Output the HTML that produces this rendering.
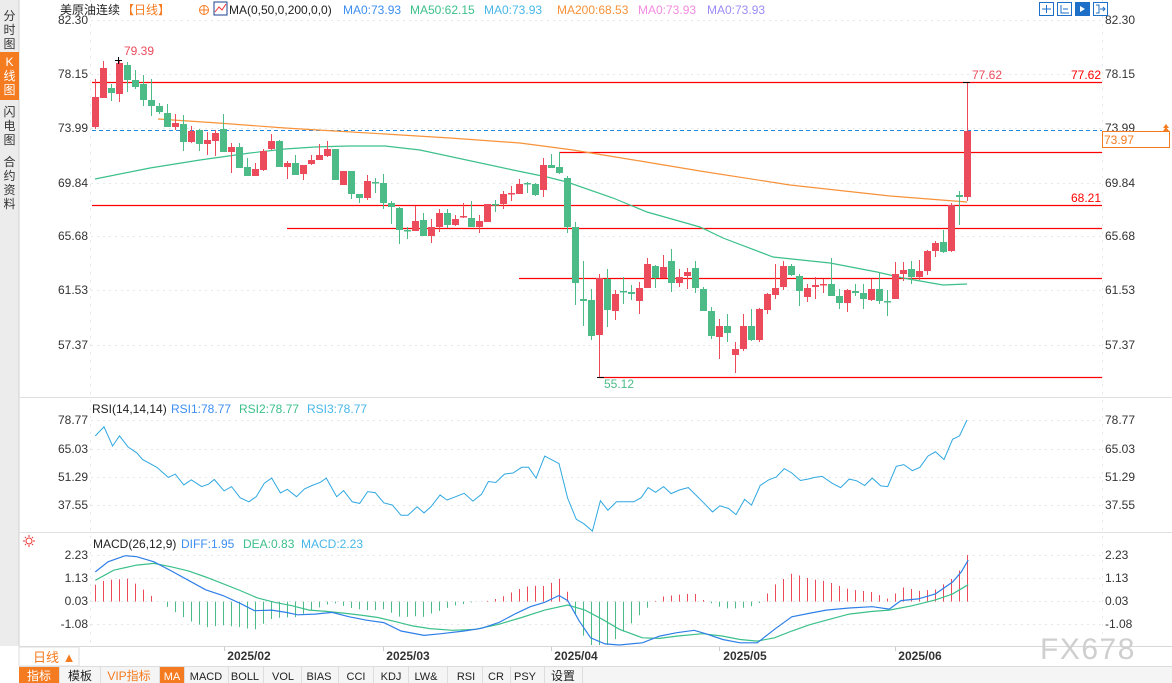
<!DOCTYPE html>
<html><head><meta charset="utf-8"><style>
html,body{margin:0;padding:0;background:#fff;}
body{width:1172px;height:683px;overflow:hidden;position:relative;font-family:"Liberation Sans","Noto Sans CJK SC",sans-serif;}
svg{position:absolute;left:0;top:0;}
text{font-family:"Liberation Sans","Noto Sans CJK SC",sans-serif;}
</style></head><body>
<svg id="s" width="1172" height="683" viewBox="0 0 1172 683" xmlns="http://www.w3.org/2000/svg">
<rect x="0" y="0" width="1172" height="683" fill="#fff"/>
<rect x="0" y="0" width="19" height="646" fill="#ececec"/>
<line x1="19" y1="0" x2="19" y2="646" stroke="#d0d0d0"/>
<rect x="0" y="52" width="19" height="48" fill="#f47b20"/>
<g font-size="12" fill="#333" text-anchor="middle">
<text x="9.5" y="20">分</text><text x="9.5" y="34">时</text><text x="9.5" y="48">图</text>
<text x="9.5" y="66" fill="#fff">K</text><text x="9.5" y="80" fill="#fff">线</text><text x="9.5" y="94" fill="#fff">图</text>
<text x="9.5" y="116">闪</text><text x="9.5" y="130">电</text><text x="9.5" y="144">图</text>
<text x="9.5" y="166">合</text><text x="9.5" y="180">约</text><text x="9.5" y="194">资</text><text x="9.5" y="208">料</text>
</g>
<line x1="19" y1="397.5" x2="1172" y2="397.5" stroke="#e0e0e0"/>
<line x1="19" y1="532.5" x2="1172" y2="532.5" stroke="#e0e0e0"/>
<line x1="19" y1="646.5" x2="1172" y2="646.5" stroke="#d8d8d8"/>
<line x1="90.5" y1="0" x2="90.5" y2="646" stroke="#e6e6e6" stroke-dasharray="2,6"/>
<line x1="1102.5" y1="0" x2="1102.5" y2="646" stroke="#e6e6e6" stroke-dasharray="2,6"/>
<g id="g"></g>
<text x="60" y="14" font-size="12" fill="#222">美原油连续</text>
<text x="122" y="14" font-size="12" fill="#f47b20">【日线】</text>
<circle cx="204" cy="10" r="4.5" fill="none" stroke="#f47b20"/><line x1="199" y1="10" x2="209" y2="10" stroke="#f47b20"/><line x1="204" y1="5" x2="204" y2="15" stroke="#f47b20"/>
<rect x="214" y="2" width="13" height="13" fill="#fff" stroke="#1b3c8f"/><polyline points="215,12 219,7 222,10 226,4" fill="none" stroke="#e33" stroke-width="1"/>
<text x="229" y="14" font-size="12" fill="#222">MA(0,50,0,200,0,0)</text>
<text x="343" y="14" font-size="12" fill="#3d8ef0">MA0:73.93</text>
<text x="410" y="14" font-size="12" fill="#3cc08a">MA50:62.15</text>
<text x="484" y="14" font-size="12" fill="#47b7e8">MA0:73.93</text>
<text x="557" y="14" font-size="12" fill="#f7923a">MA200:68.53</text>
<text x="638" y="14" font-size="12" fill="#f28be0">MA0:73.93</text>
<text x="707" y="14" font-size="12" fill="#9b8cf5">MA0:73.93</text>
<g stroke="#1e6fc8" fill="none">
<rect x="1039.5" y="2.5" width="14" height="13"/><rect x="1057.5" y="2.5" width="14" height="13"/>
<rect x="1075.5" y="2.5" width="14" height="13" fill="#1e6fc8"/><rect x="1093.5" y="2.5" width="14" height="13"/>
<path d="M1046.5 5v8M1042 9h9M1061 5v8h8M1063 9h5M1080 5v8h7M1080 6l5 3-5 3M1096 5h3v8h-3M1100 9h5M1103 7l2 2-2 2"/>
</g>
<path d="M1080 6l5 3-5 3z" fill="#fff"/>
<text x="92" y="413" font-size="12" fill="#222">RSI(14,14,14)</text>
<text x="171" y="413" font-size="12" fill="#3d8ef0">RSI1:78.77</text>
<text x="239" y="413" font-size="12" fill="#3cc08a">RSI2:78.77</text>
<text x="307" y="413" font-size="12" fill="#47b7e8">RSI3:78.77</text>
<text x="93" y="548" font-size="12" fill="#222">MACD(26,12,9)</text>
<text x="181" y="548" font-size="12" fill="#3d8ef0">DIFF:1.95</text>
<text x="243" y="548" font-size="12" fill="#3cc08a">DEA:0.83</text>
<text x="301" y="548" font-size="12" fill="#47b7e8">MACD:2.23</text>
<g stroke="#e33" fill="none"><circle cx="29" cy="541" r="3"/><path d="M29 535v2M29 545v2M23 541h2M33 541h2M25 537l1 1M32 544l1 1M25 545l1-1M32 538l1-1"/></g>
<rect x="19" y="647" width="60" height="19" fill="#fff" stroke="#ddd"/>
<text x="33" y="662" font-size="13" fill="#f47b20">日线 ▲</text>
<g font-size="12" font-weight="bold" fill="#333" text-anchor="middle">
<text x="249" y="660">2025/02</text><text x="408" y="660">2025/03</text><text x="576" y="660">2025/04</text><text x="745" y="660">2025/05</text><text x="920" y="660">2025/06</text>
</g>
<g stroke="#ccc"><line x1="224.5" y1="647" x2="224.5" y2="651"/><line x1="383.5" y1="647" x2="383.5" y2="651"/><line x1="551.5" y1="647" x2="551.5" y2="651"/><line x1="719.5" y1="647" x2="719.5" y2="651"/><line x1="895.5" y1="647" x2="895.5" y2="651"/></g>
<text x="1040" y="659" font-size="30" fill="#cfcfcf" letter-spacing="1.5">FX678</text>
<rect x="19" y="666" width="1153" height="17" fill="#f5f5f5"/>
<line x1="19" y1="666.5" x2="1172" y2="666.5" stroke="#ddd"/>
<rect x="19" y="667" width="40" height="16" fill="#f47b20"/>
<rect x="160" y="667" width="24" height="16" fill="#f47b20"/>
<g font-size="12" fill="#222" text-anchor="middle">
<text x="39" y="680" fill="#fff">指标</text><text x="80" y="680">模板</text><text x="129" y="680" fill="#f47b20">VIP指标</text>
<text x="172" y="680" fill="#fff" font-family="Liberation Serif" font-size="11">MA</text>
</g>
<g font-size="11" fill="#222" text-anchor="middle" font-family="Liberation Mono">
<text x="206" y="680">MACD</text><text x="245" y="680">BOLL</text><text x="283" y="680">VOL</text><text x="319" y="680">BIAS</text><text x="356" y="680">CCI</text><text x="391" y="680">KDJ</text><text x="426" y="680">LW&amp;</text><text x="466" y="680">RSI</text><text x="496" y="680">CR</text><text x="525" y="680">PSY</text>
</g>
<text x="563" y="680" font-size="12" fill="#222" text-anchor="middle">设置</text>
<g stroke="#ddd"><line x1="59.5" y1="667" x2="59.5" y2="683"/><line x1="100.5" y1="667" x2="100.5" y2="683"/><line x1="159.5" y1="667" x2="159.5" y2="683"/><line x1="184.5" y1="667" x2="184.5" y2="683"/><line x1="228.5" y1="667" x2="228.5" y2="683"/><line x1="263.5" y1="667" x2="263.5" y2="683"/><line x1="301.5" y1="667" x2="301.5" y2="683"/><line x1="338.5" y1="667" x2="338.5" y2="683"/><line x1="373.5" y1="667" x2="373.5" y2="683"/><line x1="408.5" y1="667" x2="408.5" y2="683"/><line x1="447.5" y1="667" x2="447.5" y2="683"/><line x1="482.5" y1="667" x2="482.5" y2="683"/><line x1="510.5" y1="667" x2="510.5" y2="683"/><line x1="544.5" y1="667" x2="544.5" y2="683"/><line x1="582.5" y1="667" x2="582.5" y2="683"/></g>
</svg>
<script>
var NS="http://www.w3.org/2000/svg",G=document.getElementById("g");
function el(t,a,txt){var e=document.createElementNS(NS,t);for(var k in a)e.setAttribute(k,a[k]);if(txt!=null)e.textContent=txt;G.appendChild(e);return e;}
var L=[[20,"82.30"],[74,"78.15"],[128,"73.99"],[183,"69.84"],[236,"65.68"],[290,"61.53"],[345,"57.37"],
[420,"78.77"],[449,"65.03"],[477,"51.29"],[505,"37.55"],[555,"2.23"],[578,"1.13"],[601,"0.03"],[624,"-1.08"]];
L.forEach(function(l){el("line",{x1:91,y1:l[0]+0.5,x2:1102,y2:l[0]+0.5,stroke:"#e8e8e8","stroke-dasharray":"2,4"});
el("text",{x:88,y:l[0]+4,"font-size":12,fill:"#333","text-anchor":"end"},l[1]);
if(l[1]!="73.99")el("text",{x:1105,y:l[0]+4,"font-size":12,fill:"#333"},l[1]);});
el("text",{x:1105,y:132,"font-size":12,fill:"#333"},"73.99");
[[92,82],[559,152],[92,205],[287,228],[519,278],[599,377]].forEach(function(r){el("line",{x1:r[0],y1:r[1]+0.5,x2:1102,y2:r[1]+0.5,stroke:"#f00","stroke-width":1.3});});
el("line",{x1:92,y1:130.5,x2:1102,y2:130.5,stroke:"#1e88e5","stroke-dasharray":"4,3"});
el("polyline",{points:"95,179 150,168 200,160 250,153 285,149 315,147 348,146 385,146 420,150 513,170 547,177 567,182 613,198 647,212 700,227 723,238 773,257 830,263 877,272 903,278 943,285 967,284",fill:"none",stroke:"#3cc08a","stroke-width":1.2});
el("polyline",{points:"158,119 218,123 285,128 318,130 385,134 450,138 520,143 573,150 640,161 700,171 790,185 890,196 967,202",fill:"none",stroke:"#f7923a","stroke-width":1.2});
var C=[[97,127,79,129,'r'],[68,98,61,98,'r'],[88,93,84,101,'g'],[63,94,60,102,'r'],[65,80,62,92,'g'],[80,87,70,89,'g'],[84,100,75,106,'g'],[100,106,79,116,'g'],[106,112,103,114,'g'],[113,127,104,127,'g'],
[123,127,114,130,'r'],[124,142,115,151,'g'],[131,142,126,143,'r'],[130,144,129,151,'g'],[140,144,132,155,'r'],[133,141,130,156,'r'],[129,152,114,152,'g'],[147,152,143,173,'r'],[147,168,143,168,'g'],[167,176,158,176,'g'],
[169,176,163,176,'r'],[151,170,149,171,'r'],[141,149,134,150,'r'],[141,167,140,167,'g'],[163,167,161,179,'r'],[163,175,155,175,'g'],[165,174,165,180,'r'],[160,164,155,165,'r'],[155,160,144,160,'r'],[149,156,141,157,'r'],
[149,180,149,180,'g'],[171,185,171,185,'r'],[171,194,171,199,'g'],[194,198,194,203,'g'],[181,198,175,200,'r'],[182,183,178,193,'g'],[183,203,174,209,'g'],[203,207,201,224,'g'],[208,230,207,244,'g'],[230,231,227,239,'g'],
[221,231,206,231,'r'],[220,236,213,236,'g'],[227,236,219,243,'r'],[213,227,209,232,'r'],[213,225,209,228,'g'],[219,225,215,226,'r'],[216,217,203,218,'r'],[218,227,201,227,'g'],[221,227,215,233,'r'],[204,222,204,222,'r'],
[204,205,200,212,'g'],[194,204,191,209,'r'],[193,194,186,201,'r'],[184,194,179,194,'r'],[183,184,182,193,'g'],[184,195,183,196,'g'],[165,190,158,197,'r'],[165,168,154,168,'g'],[167,173,152,174,'g'],[178,227,176,233,'g'],
[227,283,222,305,'g'],[299,301,261,326,'g'],[300,336,289,340,'g'],[278,335,274,377,'r'],[279,310,269,327,'g'],[294,311,290,320,'r'],[291,292,277,304,'g'],[292,294,285,300,'g'],[288,301,282,314,'r'],[264,288,258,288,'r'],
[266,278,265,288,'g'],[267,278,255,278,'r'],[261,283,249,292,'g'],[277,283,269,287,'r'],[272,276,268,289,'r'],[268,288,261,293,'g'],[289,311,287,311,'g'],[311,336,307,339,'g'],[326,337,319,359,'r'],[326,333,314,342,'g'],
[349,355,342,373,'r'],[326,349,314,351,'r'],[326,340,309,341,'g'],[309,340,308,342,'r'],[294,310,293,314,'r'],[288,295,264,299,'r'],[266,287,261,290,'r'],[266,275,264,276,'g'],[276,291,274,306,'g'],[288,297,284,302,'r'],
[285,287,277,299,'r'],[284,285,279,293,'r'],[284,296,258,296,'g'],[296,303,289,309,'g'],[290,303,289,312,'r'],[291,293,284,296,'g'],[293,299,284,309,'g'],[289,300,279,301,'r'],[289,301,272,304,'g'],[301,302,290,316,'g'],
[274,299,262,299,'r'],[270,274,262,281,'r'],[269,277,261,284,'g'],[271,277,260,280,'r'],[251,271,250,275,'r'],[243,251,241,257,'r'],[242,252,230,253,'g'],[205,251,203,252,'r'],[195,197,191,225,'g'],[131,197,82,201,'r']];
C.forEach(function(c,i){var x=95+8*i,col=c[4]=='r'?'#ec4b5c':'#4cbb87';
el("line",{x1:x+0.5,y1:c[2],x2:x+0.5,y2:c[3],stroke:col,"stroke-width":1});
el("rect",{x:x-3,y:c[0],width:7,height:Math.max(1.5,c[1]-c[0]),fill:col});});
el("path",{d:"M115 60.5h7M118.5 57v7",stroke:"#000"});
el("path",{d:"M963 82.5h7",stroke:"#000"});
el("path",{d:"M597 377.5h7",stroke:"#000"});
el("text",{x:124,y:55,"font-size":12,fill:"#ec4b5c"},"79.39");
el("text",{x:972,y:79,"font-size":12,fill:"#ec4b5c"},"77.62");
el("text",{x:1071,y:79,"font-size":12,fill:"#f00"},"77.62");
el("text",{x:1071,y:202,"font-size":12,fill:"#f00"},"68.21");
el("text",{x:604,y:388,"font-size":12,fill:"#4cbb87"},"55.12");
el("rect",{x:1102.5,y:131.5,width:67,height:16,fill:"#fff",stroke:"#f47b20"});
el("text",{x:1104,y:144,"font-size":12,fill:"#f47b20"},"73.97");
el("path",{d:"M1163 128l3-4 3 4zM1163 131l3-4 3 4z",fill:"#f47b20"});
function mp(arr,y0,z0){var p=[];for(var i=0;i<arr.length;i+=2)p.push([85+arr[i]*0.5746,y0+(arr[i+1]-z0)/2.96]);return p;}
var R=[18,115,33,88,48,145,60,115,75,148,90,165,100,185,125,208,145,238,157,228,172,260,185,245,203,265,215,258,225,244,242,278,255,265,270,298,285,310,298,295,312,255,325,240,340,284,352,273,368,295,382,272,395,262,410,252,420,240,438,295,450,277,465,310,478,315,492,280,505,283,520,313,535,320,550,350,562,350,578,325,590,343,602,325,618,290,630,305,645,295,660,285,675,308,690,288,702,250,715,253,730,228,745,225,760,208,772,208,785,240,800,175,825,197,840,300,855,362,868,375,883,397,897,307,910,335,925,310,955,310,968,298,980,268,993,282,1007,265,1020,286,1035,275,1050,268,1075,310,1092,340,1105,322,1120,330,1133,348,1148,303,1160,320,1175,262,1190,245,1203,237,1217,212,1230,225,1245,247,1258,243,1270,238,1283,235,1300,255,1315,268,1330,243,1343,248,1357,262,1370,240,1385,263,1397,265,1412,205,1425,200,1440,218,1453,208,1467,175,1480,162,1495,185,1510,125,1522,115,1535,68];
el("polyline",{points:mp(R,420,68).map(function(p){return p[0].toFixed(1)+","+p[1].toFixed(1)}).join(" "),fill:"none",stroke:"#2fa8e0","stroke-width":1});
var D=[18,115,40,85,70,67,90,70,120,85,150,112,180,140,210,168,240,185,270,208,295,230,325,228,350,235,370,242,400,240,430,235,460,248,490,258,520,265,550,290,590,303,620,298,660,290,690,282,720,265,750,238,775,218,800,205,825,185,840,200,860,260,880,310,905,328,930,335,970,325,1000,305,1030,295,1060,288,1080,298,1110,315,1140,325,1170,325,1200,285,1230,248,1260,238,1290,228,1330,222,1370,218,1400,225,1420,200,1450,195,1480,180,1510,145,1525,115,1537,80];
var E=[18,140,50,110,90,95,120,90,150,100,180,112,210,130,240,150,270,170,300,192,330,205,360,215,390,228,420,232,450,237,480,243,510,250,540,262,570,275,600,283,640,288,680,285,720,270,760,250,800,228,840,213,870,228,900,255,930,285,970,310,1000,312,1030,305,1075,298,1110,305,1140,315,1170,320,1200,310,1230,290,1260,272,1290,258,1330,240,1370,232,1400,228,1440,215,1480,198,1510,180,1537,153];
var DP=mp(D,555,65),EP=mp(E,555,65);
function at(P,x){if(x<=P[0][0])return P[0][1];for(var i=1;i<P.length;i++)if(x<=P[i][0]){var t=(x-P[i-1][0])/(P[i][0]-P[i-1][0]);return P[i-1][1]+t*(P[i][1]-P[i-1][1]);}return P[P.length-1][1];}
var Z=601.6;
for(var i=0;i<110;i++){var x=95+8*i,h=2*(at(DP,x)-at(EP,x));if(i==109)h=555-Z;var y2=Math.max(536,Math.min(645,Z+h));
el("line",{x1:x+0.5,y1:Z,x2:x+0.5,y2:y2,stroke:h<0?'#ec4b5c':'#4cbb87',"stroke-width":1});}
el("polyline",{points:EP.map(function(p){return p[0].toFixed(1)+","+Math.min(645,p[1]).toFixed(1)}).join(" "),fill:"none",stroke:"#3cc08a","stroke-width":1.2});
el("polyline",{points:DP.map(function(p){return p[0].toFixed(1)+","+Math.min(645,p[1]).toFixed(1)}).join(" "),fill:"none",stroke:"#2f7fe8","stroke-width":1.2});
</script>
</body></html>
